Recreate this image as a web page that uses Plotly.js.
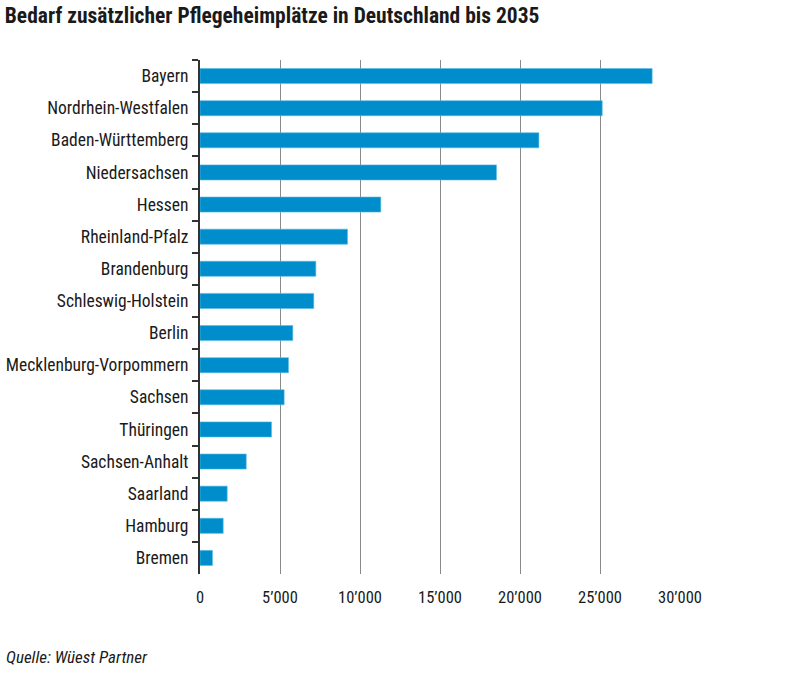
<!DOCTYPE html>
<html><head><meta charset="utf-8">
<script src="https://cdn.plot.ly/plotly-3.0.1.min.js"></script>
<style>body{margin:0;background:#fff}#c{width:801px;height:676px}</style>
</head><body><div id="c"></div>
<script>
const states = ["Bayern","Nordrhein-Westfalen","Baden-Württemberg","Niedersachsen","Hessen","Rheinland-Pfalz","Brandenburg","Schleswig-Holstein","Berlin","Mecklenburg-Vorpommern","Sachsen","Thüringen","Sachsen-Anhalt","Saarland","Hamburg","Bremen"];
const places = [28260,25140,21180,18530,11300,9220,7240,7110,5800,5530,5260,4470,2890,1700,1450,780];
const tickVals = [0,5000,10000,15000,20000,25000,30000];
const tickText = ["0","5’000","10’000","15’000","20’000","25’000","30’000"];
const font = "'Liberation Sans Narrow', 'Roboto Condensed', 'Arial Narrow', sans-serif";

Plotly.newPlot("c", [{
  type: "bar", orientation: "h",
  x: places, y: states,
  width: 0.47,
  marker: {color: "#008dcb", line: {color: "#5bbbe6", width: 0.6}},
  hoverinfo: "x+y"
}], {
  width: 801, height: 676,
  paper_bgcolor: "#fff", plot_bgcolor: "#fff",
  margin: {l: 200, r: 121, t: 60, b: 102},
  font: {family: font, size: 16, color: "#1a1a1a"},
  title: {text: "<b>Bedarf zusätzlicher Pflegeheimplätze in Deutschland bis 2035</b>", x: 0.006, xanchor: "left", y: 0.988, yanchor: "top", font: {family: font, size: 21.5, color: "#1a1a1a"}},
  xaxis: {range: [0, 30000], tickvals: tickVals, ticktext: tickText, showgrid: true, gridcolor: "#8a8a8a", gridwidth: 1.3,
          zeroline: false, showline: false, ticks: "", ticklabelstandoff: 11, tickfont: {size: 16.5}, fixedrange: true},
  yaxis: {autorange: "reversed", showline: true, linecolor: "#333", linewidth: 2, ticks: "outside", tickson: "boundaries",
          ticklen: 6, tickwidth: 2, tickcolor: "#333", ticklabelstandoff: 6, showgrid: false, tickfont: {size: 17.5}},
  bargap: 0.5,
  annotations: [{text: "<i>Quelle: Wüest Partner</i>", xref: "paper", yref: "paper", x: -196/480, y: -0.161, xanchor: "left", yanchor: "middle",
                 showarrow: false, font: {family: font, size: 17, color: "#1a1a1a"}}]
}, {displayModeBar: false});
</script></body></html>
